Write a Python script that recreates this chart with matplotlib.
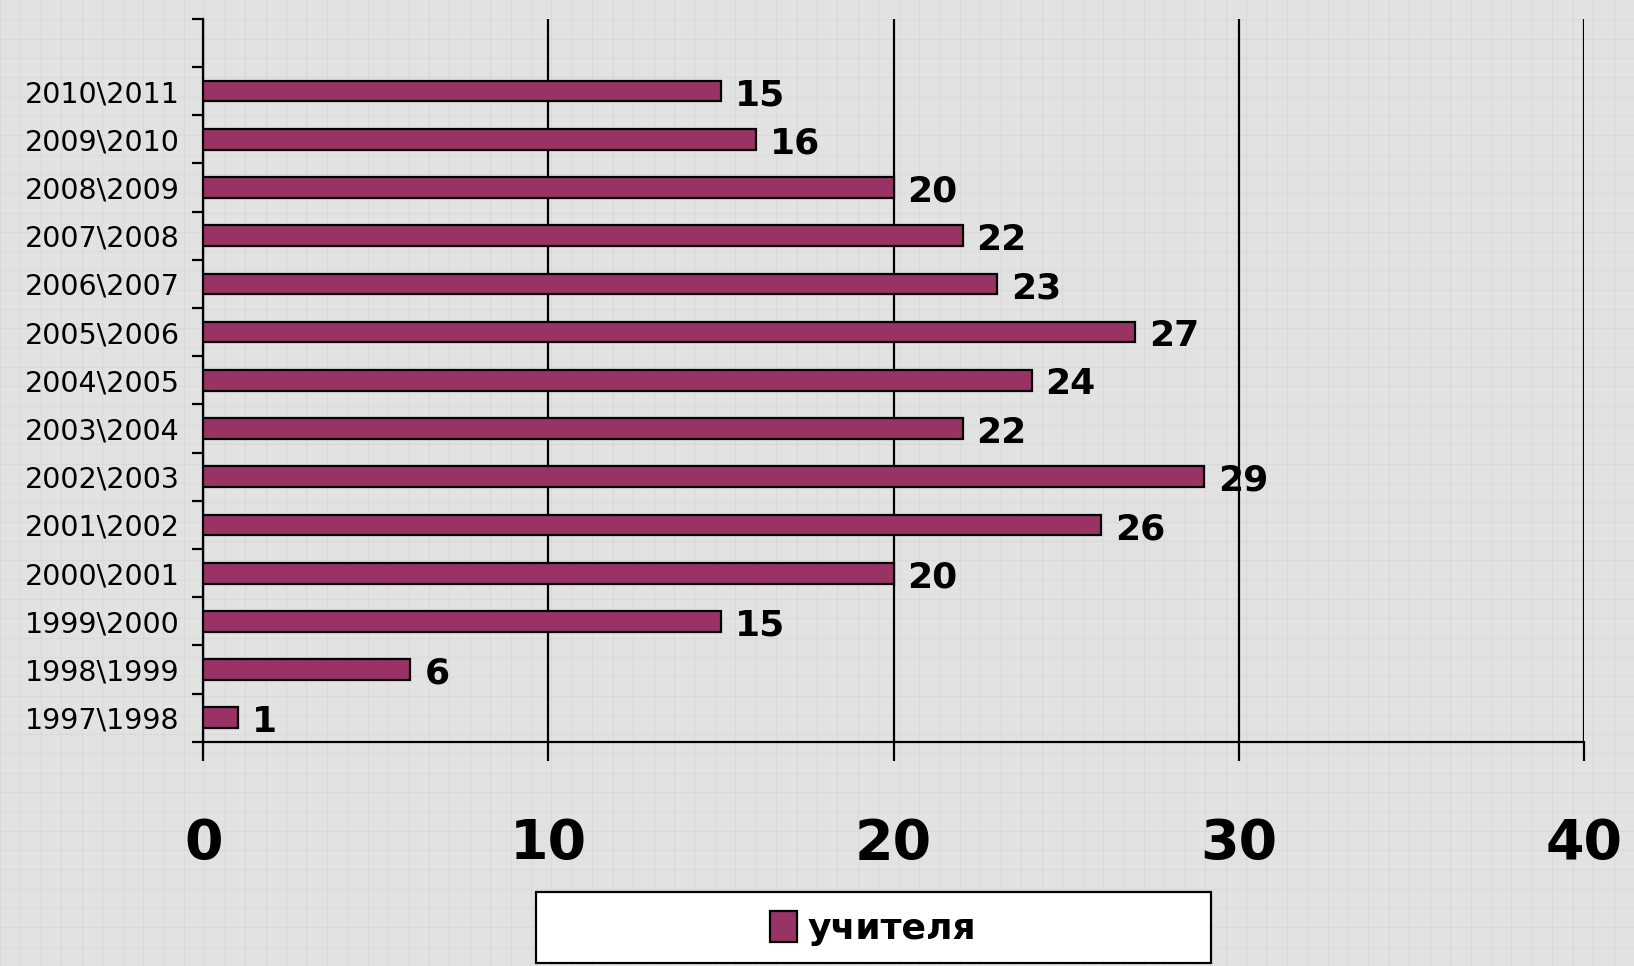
import matplotlib
matplotlib.use("Agg")
import matplotlib.pyplot as plt
from matplotlib.patches import Rectangle
import numpy as np

categories = ["1997\\1998", "1998\\1999", "1999\\2000", "2000\\2001", "2001\\2002",
              "2002\\2003", "2003\\2004", "2004\\2005", "2005\\2006", "2006\\2007",
              "2007\\2008", "2008\\2009", "2009\\2010", "2010\\2011"]
values = [1, 6, 15, 20, 26, 29, 22, 24, 27, 23, 22, 20, 16, 15]
series_name = "учителя"
xticks = [0, 10, 20, 30, 40]

bar_color = "#993366"
bg = "#e2e2e2"

fig = plt.figure(figsize=(16.34, 9.66), dpi=100)
fig.patch.set_facecolor(bg)

# subtle background texture
bgax = fig.add_axes([0, 0, 1, 1], zorder=-10)
bgax.set_xlim(0, 1); bgax.set_ylim(0, 1); bgax.axis("off")
for xx in np.arange(0, 1, 0.0125):
    bgax.axvline(xx, color="#d6d6d6", lw=0.8, alpha=0.6)
for yy in np.arange(0, 1, 0.02):
    bgax.axhline(yy, color="#d6d6d6", lw=0.8, alpha=0.6)

ax = fig.add_axes([0.1244, 0.232, 0.845, 0.7486])
ax.set_facecolor("none")
y = np.arange(len(categories))
bars = ax.barh(y, values, height=0.43, color=bar_color, edgecolor="black",
               linewidth=1.6, label=series_name, zorder=3)

for yi, v in zip(y, values):
    ax.annotate(str(v), (v, yi), xytext=(10, -3), textcoords="offset points",
                ha="left", va="center", fontsize=26, fontweight="bold",
                color="black", zorder=4)

ax.set_xlim(0, 40)
ax.set_ylim(-0.5, len(categories) + 0.5)
ax.set_xticks(xticks)
ax.set_xticklabels([str(t) for t in xticks], fontsize=40, fontweight="bold")
ax.tick_params(axis="x", direction="out", length=14, width=1.6, pad=40)
ax.xaxis.grid(True, color="black", linewidth=1.6, zorder=1)

ax.set_yticks(y)
ax.set_yticklabels(categories, fontsize=20.5)
ax.tick_params(axis="y", which="major", length=0, pad=17)
ax.set_yticks(np.arange(-0.5, len(categories) + 1, 1.0), minor=True)
ax.tick_params(axis="y", which="minor", direction="out", length=8, width=1.6)

for s in ["top", "right"]:
    ax.spines[s].set_visible(False)
for s in ["left", "bottom"]:
    ax.spines[s].set_linewidth(1.6)
    ax.spines[s].set_color("black")

# legend box
fig.patches.append(Rectangle((0.328, 0.003), 0.413, 0.074, transform=fig.transFigure,
                             facecolor="white", edgecolor="black", linewidth=1.6, zorder=5))
leg = fig.legend(handles=[bars], labels=[series_name], loc="center",
                 bbox_to_anchor=(0.5345, 0.039), frameon=False,
                 prop={"size": 26, "weight": "bold"}, handlelength=0.75,
                 handleheight=0.95, handletextpad=0.3)
leg.set_zorder(6)

fig.savefig("out.png", dpi=100, facecolor=fig.get_facecolor())
